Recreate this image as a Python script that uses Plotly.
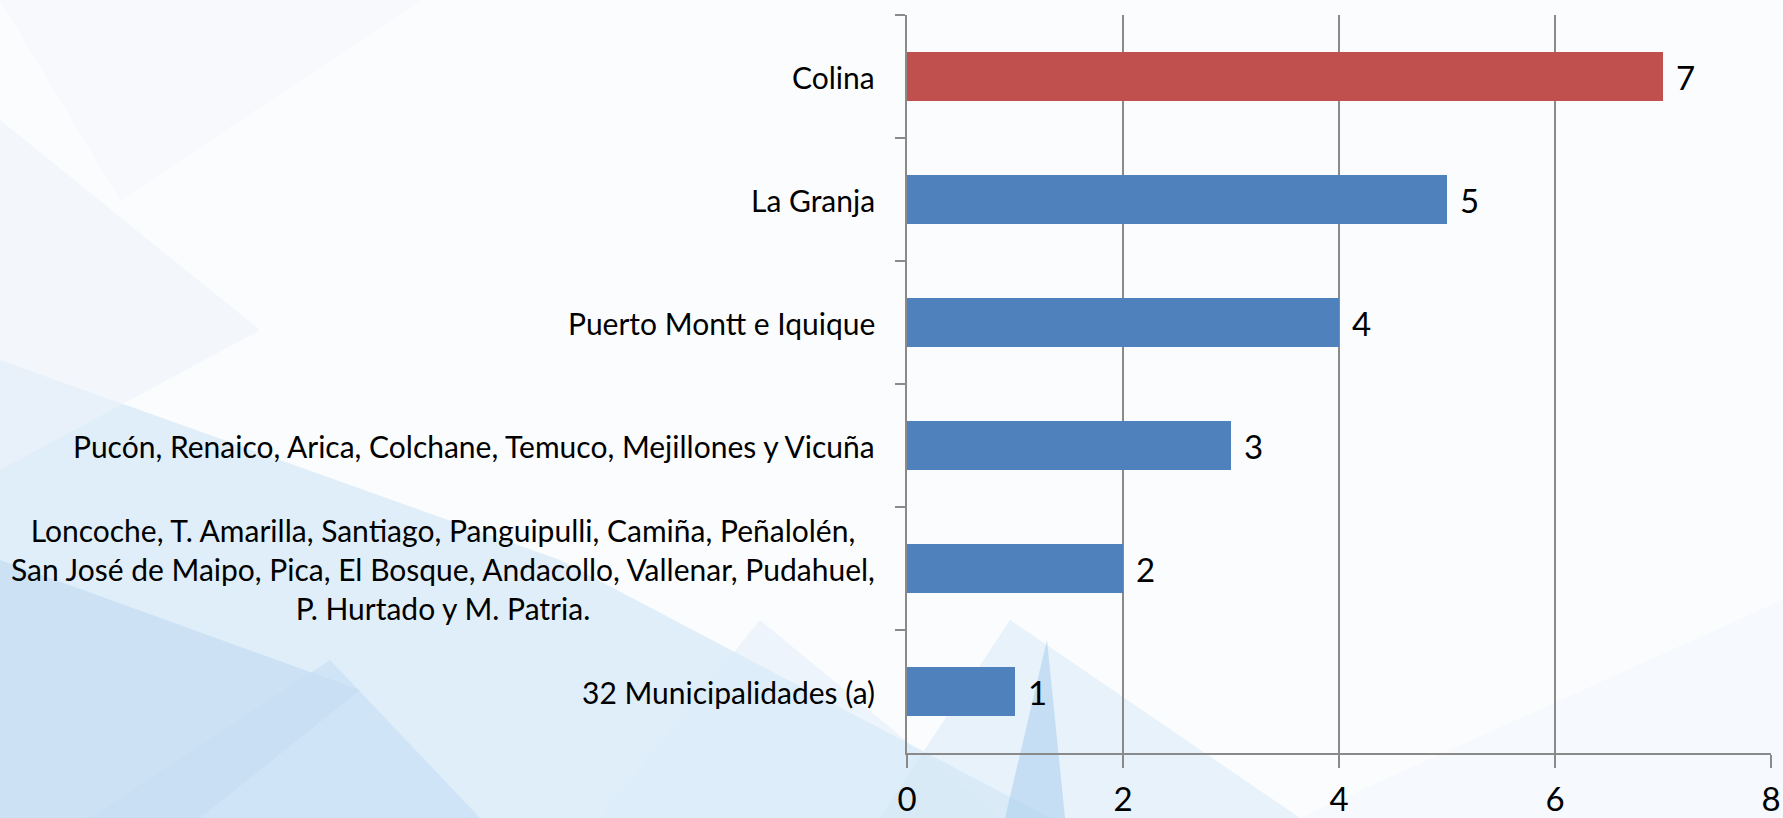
import plotly.graph_objects as go

# datos del gráfico (de arriba hacia abajo)
municipios = [
    "Colina",
    "La Granja",
    "Puerto Montt e Iquique",
    "Pucón, Renaico, Arica, Colchane, Temuco, Mejillones y Vicuña",
    "Loncoche, T. Amarilla, Santiago, Panguipulli, Camiña, Peñalolén,<br>"
    "San José de Maipo, Pica, El Bosque, Andacollo, Vallenar, Pudahuel,<br>"
    "P. Hurtado y M. Patria.",
    "32 Municipalidades (a)",
]
cantidad = [7, 5, 4, 3, 2, 1]
x_ticks = [0, 2, 4, 6, 8]

W, H = 1783, 818
L, R, T, B = 907, 12, 15, 65
FONT = "Lato"
GRIS = "#8a8a8a"

colores = ["#C0504D" if m == "Colina" else "#4F81BD" for m in municipios]


def px2paper(pts):
    # convierte pixeles de la figura a coordenadas paper
    pw, ph = W - L - R, H - T - B
    out = []
    for x, y in pts:
        out.append(((x - L) / pw, 1 - (y - T) / ph))
    return out


def poly(pts, color, op):
    p = px2paper(pts)
    path = "M " + " L ".join(f"{a:.4f},{b:.4f}" for a, b in p) + " Z"
    return dict(type="path", xref="paper", yref="paper", path=path,
                fillcolor=color, opacity=op, line=dict(width=0), layer="below")


# fondo con triángulos celestes
fondo = [
    poly([(0, 360), (560, 560), (1050, 818), (0, 818)], "#d6e9f7", 0.75),
    poly([(0, 120), (260, 330), (0, 470)], "#eef4fa", 0.6),
    poly([(0, 560), (360, 690), (200, 818), (0, 818)], "#bcd9f1", 0.55),
    poly([(90, 818), (330, 660), (480, 818)], "#c4def3", 0.6),
    poly([(600, 818), (760, 620), (1000, 818)], "#dcebf8", 0.45),
    poly([(880, 818), (1010, 620), (1300, 818)], "#d6e8f6", 0.5),
    poly([(1005, 818), (1047, 640), (1065, 818)], "#a9cdec", 0.55),
    poly([(1300, 818), (1783, 600), (1783, 818)], "#f1f6fb", 0.5),
    poly([(0, 0), (420, 0), (120, 200)], "#f3f6f9", 0.5),
]

fig = go.Figure()
fig.add_trace(go.Bar(
    x=cantidad, y=municipios, orientation="h",
    marker=dict(color=colores, line=dict(width=0)),
    hoverinfo="x+y",
))

anots = []
for m, v in zip(municipios, cantidad):
    # etiqueta de categoría
    anots.append(dict(x=0, xref="paper", y=m, yref="y", text=m, showarrow=False,
                      xanchor="right", yanchor="middle", align="center", xshift=-30,
                      font=dict(family=FONT, size=30, color="#000000")))
    # etiqueta del valor
    anots.append(dict(x=v, xref="x", y=m, yref="y", text=str(v), showarrow=False,
                      xanchor="left", yanchor="middle", xshift=11,
                      font=dict(family=FONT, size=33, color="#000000")))

fig.update_layout(
    width=W, height=H,
    margin=dict(l=L, r=R, t=T, b=B, autoexpand=False),
    paper_bgcolor="#fbfcfe",
    plot_bgcolor="rgba(0,0,0,0)",
    bargap=0.6,
    showlegend=False,
    shapes=fondo,
    annotations=anots,
    xaxis=dict(
        range=[0, 8], tickvals=x_ticks, showgrid=True, gridcolor=GRIS, gridwidth=1.5,
        zeroline=False, showline=True, linecolor=GRIS, linewidth=1.5,
        ticks="outside", ticklen=13, tickcolor=GRIS, tickwidth=1.5,
        ticklabelstandoff=4, automargin=False,
        tickfont=dict(family=FONT, size=33, color="#000000"),
    ),
    yaxis=dict(
        categoryorder="array", categoryarray=municipios, autorange="reversed",
        showticklabels=False, showgrid=False, zeroline=False, automargin=False,
        showline=True, linecolor=GRIS, linewidth=1.5,
        ticks="outside", tickson="boundaries", ticklen=10, tickcolor=GRIS, tickwidth=1.5,
    ),
)

fig.write_html("out.html", config={"displayModeBar": False},
               post_script="document.body.style.margin='0';document.body.style.overflow='hidden';")
